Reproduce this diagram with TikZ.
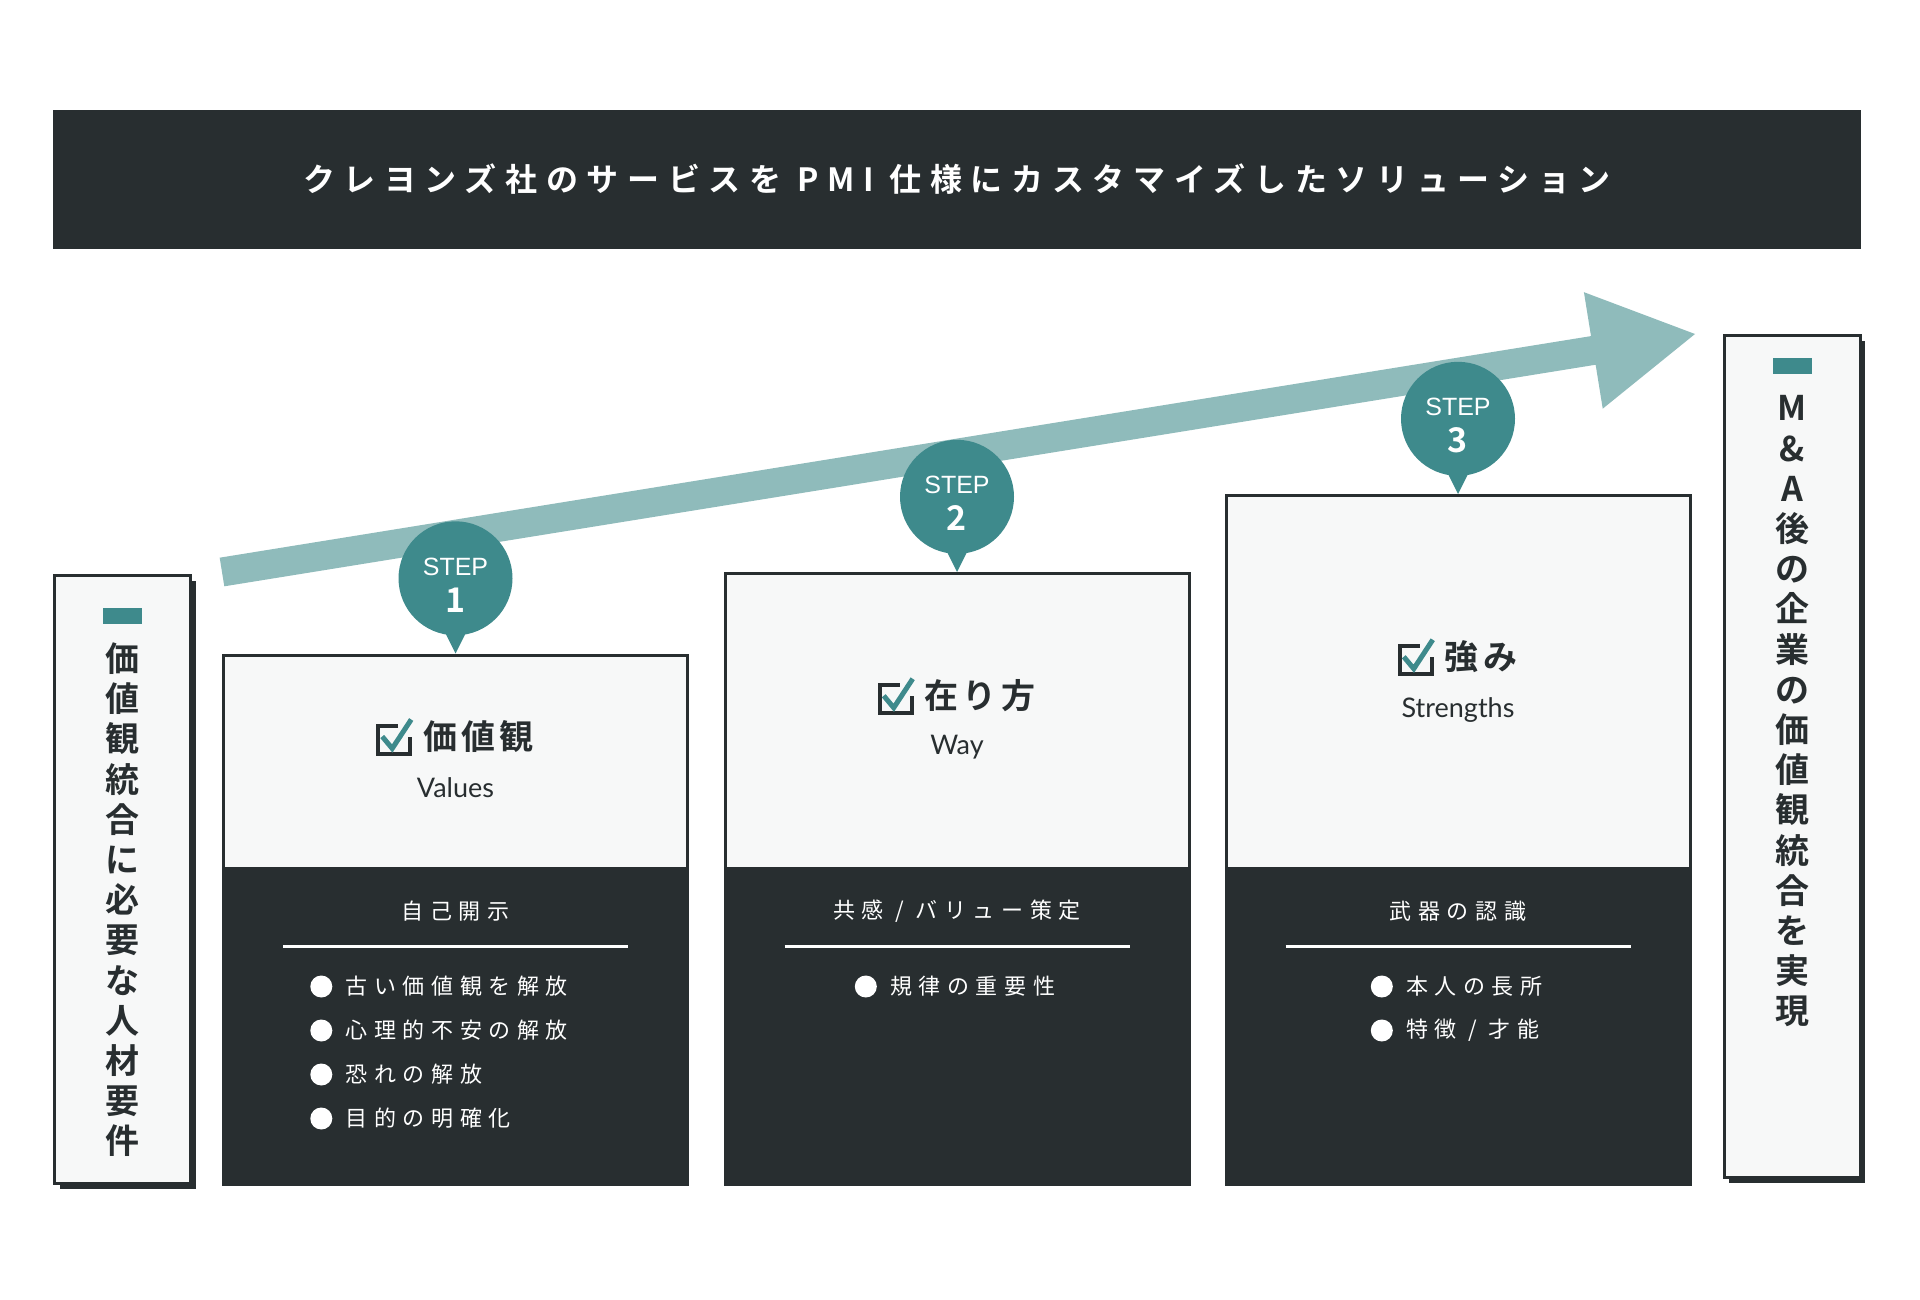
\documentclass[tikz,border=0pt]{standalone}
\usepackage{fontspec}
\setmainfont{Noto Sans CJK JP}[BoldFont={* Bold}]
\newfontfamily\spacedjp{Noto Sans CJK JP}[LetterSpace=30,BoldFont={* Bold}]
\newfontfamily\titlejp{Noto Sans CJK JP}[LetterSpace=12,BoldFont={* Bold}]
\newfontfamily\bannerjp{Noto Sans CJK JP}[LetterSpace=27,BoldFont={* Bold}]
\newfontfamily\steplatin{Liberation Sans}
\newfontfamily\sublatin{Lato}
\usetikzlibrary{arrows.meta,positioning,calc,shadows}

\definecolor{ink}{HTML}{282E30}
\definecolor{paper}{HTML}{F7F8F8}
\definecolor{stepteal}{HTML}{3E8A8C}
\definecolor{flowteal}{HTML}{8FBBBB}

\tikzset{
  chkbox/.pic={
    \draw[ink, line width=4pt] (20,-28) -- (0,-28) -- (0,0) -- (32,0) -- (32,-17);
    \draw[stepteal, line width=5pt] (4,-17) -- (14,-5) -- (33,-34);
  }
}

\begin{document}
\begin{tikzpicture}[
  x=1pt, y=-1pt,
  banner/.style={fill=ink, text=white, minimum width=1808pt, minimum height=139pt, inner sep=0pt, font=\bannerjp\bfseries\fontsize{32}{38}\selectfont},
  sidebox/.style={draw=ink, line width=3pt, fill=paper, minimum width=136pt, inner sep=0pt, drop shadow={shadow xshift=5pt, shadow yshift=-5pt, opacity=1, fill=ink}},
  sidebar/.style={fill=stepteal, minimum width=39pt, minimum height=16pt, inner sep=0pt},
  vtext/.style={align=center, inner sep=0pt, text=ink, font=\bfseries\fontsize{34}{40.2}\selectfont},
  upper/.style={draw=ink, line width=3pt, fill=paper, minimum width=464pt, inner sep=0pt},
  lower/.style={fill=ink, minimum width=467pt, minimum height=316pt, inner sep=0pt},
  bubble/.style={circle, fill=stepteal, minimum size=114pt, inner sep=0pt, text=white, align=center, font=\fontsize{25}{30}\selectfont},
  ttl/.style={text=ink, inner sep=0pt, font=\titlejp\bfseries\fontsize{34}{40}\selectfont},
  sub/.style={text=ink, inner sep=0pt, font=\sublatin\fontsize{27}{32}\selectfont},
  head/.style={text=white, inner sep=0pt, font=\spacedjp\fontsize{22}{26}\selectfont},
  item/.style={text=white, inner sep=0pt, anchor=west, font=\spacedjp\fontsize{22}{26}\selectfont},
  dot/.style={circle, fill=white, minimum size=22pt, inner sep=0pt},
  rule/.style={white, line width=3pt}
]
\useasboundingbox[fill=white] (0,0) rectangle (1920,1300);

\node[banner] (title) at (957,179.5) {クレヨンズ社のサービスを PMI 仕様にカスタマイズしたソリューション};

\coordinate (fs) at (222,572);
\coordinate (fe) at (1695,334);
\coordinate (hb) at ($(fe)!103pt!(fs)$);
\fill[flowteal] ($(fs)!14.5pt!90:(fe)$) -- ($(hb)!14.5pt!90:(fe)$) -- ($(hb)!59pt!90:(fe)$) -- (fe)
  -- ($(hb)!59pt!-90:(fe)$) -- ($(hb)!14.5pt!-90:(fe)$) -- ($(fs)!14.5pt!-90:(fe)$) -- cycle;

\node[sidebox, minimum height=608pt] (left) at (122.5,879.5) {};
\node[sidebar, below=34pt of left.north] (lbar) {};
\node[vtext, below=18pt of lbar] (ltxt) {価\\値\\観\\統\\合\\に\\必\\要\\な\\人\\材\\要\\件};

\node[sidebox, minimum height=842pt] (right) at (1792,756.5) {};
\node[sidebar, below=24pt of right.north] (rbar) {};
\node[vtext, below=21pt of rbar] (rtxt) {M\\\&\\A\\後\\の\\企\\業\\の\\価\\値\\観\\統\\合\\を\\実\\現};

\node[upper, minimum height=213pt] (up1) at (455.5,761.5) {};
\node[upper, minimum height=294.5pt] (up2) at (957,720.75) {};
\node[upper, minimum height=372.5pt] (up3) at (1458,681.75) {};
\node[lower, below=0pt of up1.south] (low1) {};
\node[lower, below=0pt of up2.south] (low2) {};
\node[lower, below=0pt of up3.south] (low3) {};

\node[bubble, above=18pt of up1] (b1) {{\steplatin\rule{0pt}{31pt}STEP}\\[7pt]{\bfseries\fontsize{34}{34}\selectfont 1}};
\node[bubble, above=18pt of up2] (b2) {{\steplatin\rule{0pt}{31pt}STEP}\\[7pt]{\bfseries\fontsize{34}{34}\selectfont 2}};
\node[bubble, above=18pt of up3] (b3) {{\steplatin\rule{0pt}{31pt}STEP}\\[7pt]{\bfseries\fontsize{34}{34}\selectfont 3}};
\foreach \i in {1,2,3}
  \fill[stepteal] ([xshift=-12pt,yshift=6pt]b\i.south) -- ([xshift=12pt,yshift=6pt]b\i.south) -- (up\i.north);

\node[ttl] (t1) at ([xshift=23pt,yshift=25pt]up1.center) {価値観};
\node[ttl] (t2) at ([xshift=23pt,yshift=25pt]up2.center) {在り方};
\node[ttl] (t3) at ([xshift=23pt,yshift=25pt]up3.center) {強み};
\foreach \i in {1,2,3}
  \pic at ([xshift=-45pt,yshift=-17pt]t\i.west) {chkbox};
\node[sub] (s1) at ([yshift=-26pt]up1.center) {Values};
\node[sub] (s2) at ([yshift=-26pt]up2.center) {Way};
\node[sub] (s3) at ([yshift=-28pt]up3.center) {Strengths};

\node[head] (h1) at ([yshift=-42pt]low1.north) {自己開示};
\node[head] (h2) at ([yshift=-42pt]low2.north) {共感 / バリュー策定};
\node[head] (h3) at ([yshift=-42pt]low3.north) {武器の認識};
\foreach \i in {1,2,3}
  \draw[rule] ([xshift=-172.5pt,yshift=-77pt]low\i.north) -- ([xshift=172.5pt,yshift=-77pt]low\i.north);

\foreach \t [count=\i] in {古い価値観を解放,心理的不安の解放,恐れの解放,目的の明確化} {
  \node[item] (a\i) at ([xshift=-110pt,yshift={-(117+44*(\i-1))*1pt}]low1.north) {\t};
  \node[dot, left=13pt of a\i] {};
}
\node[item] (b1x) at ([xshift=-67pt,yshift=-117pt]low2.north) {規律の重要性};
\node[dot, left=13pt of b1x] {};
\foreach \t [count=\i] in {本人の長所,特徴 / 才能} {
  \node[item] (c\i) at ([xshift=-52pt,yshift={-(117+44*(\i-1))*1pt}]low3.north) {\t};
  \node[dot, left=13pt of c\i] {};
}
\end{tikzpicture}
\end{document}
